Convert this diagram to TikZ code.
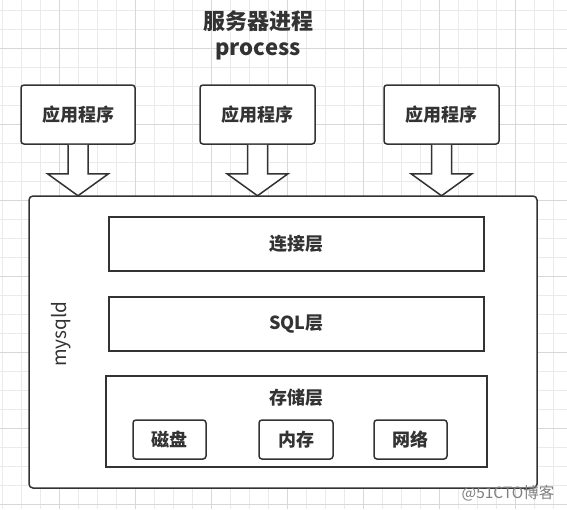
\documentclass[tikz,border=0pt]{standalone}
\usepackage{fontspec}
\newfontfamily\cjk{Noto Sans CJK SC}
\usetikzlibrary{calc}
\definecolor{edge}{HTML}{333333}
\definecolor{gridminor}{HTML}{EAEAEA}
\definecolor{gridmajor}{HTML}{D8D8D8}
\definecolor{wm}{HTML}{808080}
\tikzset{
  x=1pt, y=-1pt,
  box/.style={draw=edge, line width=1.5pt, fill=white, rounded corners=3pt, inner sep=0pt, font=\cjk\bfseries\fontsize{18}{20}\selectfont, text=edge},
  layer/.style={draw=edge, line width=1.5pt, fill=white, inner sep=0pt, font=\cjk\bfseries\fontsize{18}{20}\selectfont, text=edge},
  blk/.style={draw=edge, line width=1.5pt, fill=white, line join=miter},
  txt/.style={inner sep=0pt, text=edge}
}
\begin{document}
\begin{tikzpicture}
\useasboundingbox (0,0) rectangle (567,509);
\fill[white] (0,0) rectangle (567,509);
% grid
\foreach \x in {2,21,...,566} \draw[gridminor, line width=0.7pt] (\x,0) -- (\x,509);
\foreach \y in {10,29,...,508} \draw[gridminor, line width=0.7pt] (0,\y) -- (567,\y);
\foreach \x in {59,135,...,566} \draw[gridmajor, line width=0.8pt] (\x,0) -- (\x,509);
\foreach \y in {48,124,...,508} \draw[gridmajor, line width=0.8pt] (0,\y) -- (567,\y);

% title
\node[txt, font=\cjk\bfseries\fontsize{22}{24}\selectfont] (title) at (258,21) {服务器进程};
\node[txt, font=\cjk\bfseries\fontsize{22}{24}\selectfont] (proc) at (258,51) {process};

% application boxes
\node[box, minimum width=114pt, minimum height=59pt] (a1) at (78,114.5) {应用程序};
\node[box, minimum width=115pt, minimum height=59pt] (a2) at (257.5,114.5) {应用程序};
\node[box, minimum width=115pt, minimum height=59pt] (a3) at (441.5,114.5) {应用程序};

% main box
\node[box, rounded corners=4pt, minimum width=508pt, minimum height=292pt] (main) at (283,342) {};

% block arrows
\foreach \a in {a1,a2,a3}{
  \draw[blk] (\a.south) ++(-10,0) -- ++(0,29) -- ++(-20.5,0) -- ++(30.5,22) -- ++(30.5,-22) -- ++(-20.5,0) -- ++(0,-29);
}

\node[txt, rotate=90, font=\cjk\fontsize{19}{21}\selectfont] (mysqld) at (61,334) {mysqld};

% layers
\node[layer, minimum width=375pt, minimum height=54pt] (conn) at (296.5,244) {连接层};
\node[layer, minimum width=375pt, minimum height=54pt] (sql) at (296.5,324) {SQL层};
\node[layer, minimum width=381pt, minimum height=91pt] (store) at (296.5,421.5) {};
\node[txt, font=\cjk\bfseries\fontsize{18}{20}\selectfont] (storelbl) at (296.5,398) {存储层};

\node[box, minimum width=73pt, minimum height=39pt] (disk) at (169.5,439.5) {磁盘};
\node[box, minimum width=74pt, minimum height=39pt] (mem) at (296,439.5) {内存};
\node[box, minimum width=73pt, minimum height=39pt] (net) at (410.5,439.5) {网络};

% watermark
\node[inner sep=0pt, text=wm, font=\cjk\fontsize{15.5}{17}\selectfont] (wmark) at (508,493) {@51CTO博客};
\end{tikzpicture}
\end{document}
